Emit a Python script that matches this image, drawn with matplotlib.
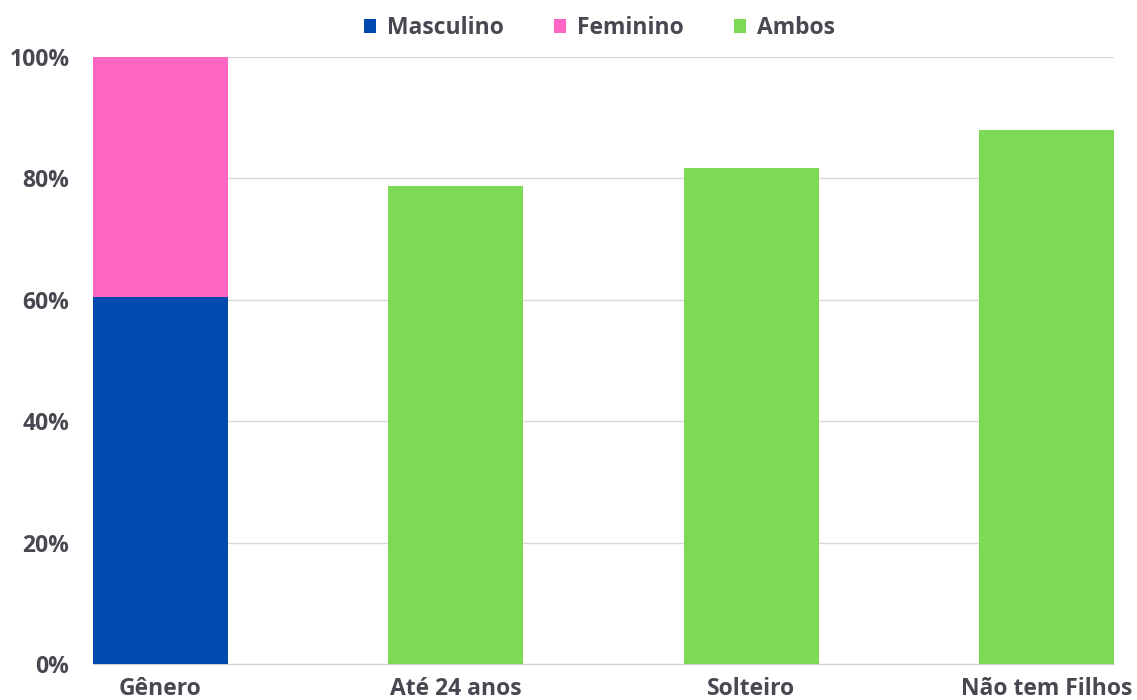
import matplotlib.pyplot as plt
from matplotlib.ticker import PercentFormatter

# categories and values (percent)
categorias = ['Gênero', 'Até 24 anos', 'Solteiro', 'Não tem Filhos']
masculino = [60.5, 0, 0, 0]
feminino = [39.5, 0, 0, 0]
ambos = [0, 78.7, 81.7, 88.0]

cor_masc = '#004aad'
cor_fem = '#ff66c4'
cor_ambos = '#7ed957'
cor_texto = '#4a4750'

plt.rcParams['font.family'] = ['Open Sans', 'DejaVu Sans']
plt.rcParams['font.weight'] = 'bold'

fig = plt.figure(figsize=(11.37, 7), dpi=100)
ax = fig.add_axes([0.0818, 0.0514, 0.898, 0.8672])

x = range(len(categorias))
largura = 0.457
ax.bar(x, masculino, largura, color=cor_masc, label='Masculino', zorder=3)
ax.bar(x, feminino, largura, bottom=masculino, color=cor_fem, label='Feminino', zorder=3)
ax.bar(x, ambos, largura, color=cor_ambos, label='Ambos', zorder=3)

ax.set_xlim(-largura / 2, len(categorias) - 1 + largura / 2)
ax.set_ylim(0, 100)
ax.set_yticks(range(0, 101, 20))
ax.yaxis.set_major_formatter(PercentFormatter(decimals=0))
ax.set_xticks(list(x))
ax.set_xticklabels(categorias)

ax.grid(axis='y', color='#d9d9d9', linewidth=1, zorder=0)
for s in ['top', 'right', 'left']:
    ax.spines[s].set_visible(False)
ax.spines['bottom'].set_color('#d0d0d0')
ax.tick_params(axis='both', length=0, labelsize=16.5, colors=cor_texto)
ax.tick_params(axis='y', pad=17)
ax.tick_params(axis='x', pad=9)

leg = fig.legend(loc='upper center', bbox_to_anchor=(0.527, 1.006), ncol=3, frameon=False,
                 fontsize=16.5, handlelength=0.55, handleheight=0.55, columnspacing=2.2,
                 handletextpad=0.45)
for t in leg.get_texts():
    t.set_color(cor_texto)

fig.savefig('out.png', dpi=100)
